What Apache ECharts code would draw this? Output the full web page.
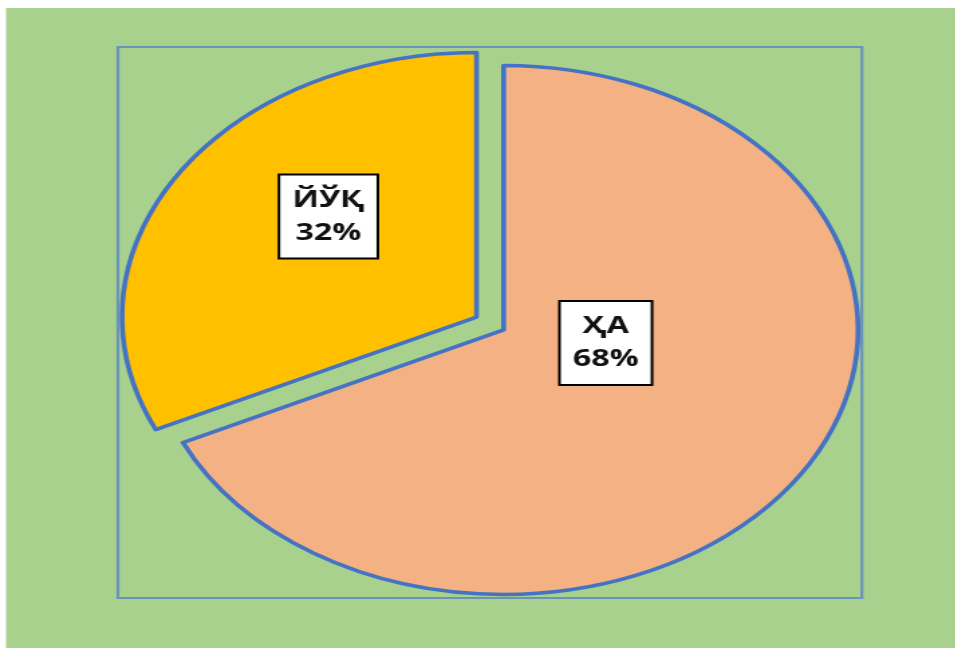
<!DOCTYPE html>
<html>
<head>
<meta charset="utf-8">
<script src="https://cdn.jsdelivr.net/npm/echarts@6/dist/echarts.min.js"></script>
<style>
html,body{margin:0;padding:0;background:#ffffff;overflow:hidden;}
#wrap{width:955px;height:648px;position:relative;overflow:hidden;}
#chart{position:absolute;left:0;top:0;width:712.7px;height:648px;transform:scaleX(1.34);transform-origin:0 0;}
</style>
</head>
<body>
<div id="wrap"><div id="chart"></div></div>
<script>
// Data
const categories = ['ҲА', 'ЙЎҚ'];
const values = [68, 32];
const sliceColors = ['#F4B183', '#FFC000'];
const labelShifts = [[-38, -59.5], [3.7, -28]];

const chart = echarts.init(document.getElementById('chart'), null, {renderer: 'canvas'});
const option = {
  animation: false,
  backgroundColor: 'transparent',
  graphic: [
    {type: 'rect', z: -10, shape: {x: 4.5, y: 8, width: 720, height: 660}, style: {fill: '#A9D18E'}},
    {type: 'rect', z: -9, shape: {x: 88, y: 47, width: 555.2, height: 551}, style: {fill: 'none', stroke: '#6A93B8', lineWidth: 2.2}}
  ],
  series: [{
    type: 'pie',
    center: [365.7, 323.5],
    radius: 264.5,
    startAngle: 90,
    clockwise: true,
    selectedMode: 'multiple',
    selectedOffset: 12,
    avoidLabelOverlap: false,
    emphasis: {disabled: true},
    select: {itemStyle: {borderColor: '#4472C4', borderWidth: 3.6}},
    itemStyle: {borderColor: '#4472C4', borderWidth: 3.6},
    label: {
      show: true,
      position: 'inside',
      formatter: p => p.name + '\n' + p.percent.toFixed(0) + '%',
      color: '#111',
      fontFamily: '"Open Sans", "DejaVu Sans", sans-serif',
      fontWeight: 'bold',
      fontSize: 24,
      lineHeight: 33,
      backgroundColor: '#ffffff',
      borderColor: '#000000',
      borderWidth: 2,
      padding: [8, 9]
    },
    labelLayout: p => ({dx: labelShifts[p.dataIndex][0], dy: labelShifts[p.dataIndex][1]}),
    labelLine: {show: false},
    data: categories.map((c, i) => ({
      name: c,
      value: values[i],
      selected: true,
      itemStyle: {color: sliceColors[i]}
    }))
  }]
};
chart.setOption(option);
</script>
</body>
</html>
